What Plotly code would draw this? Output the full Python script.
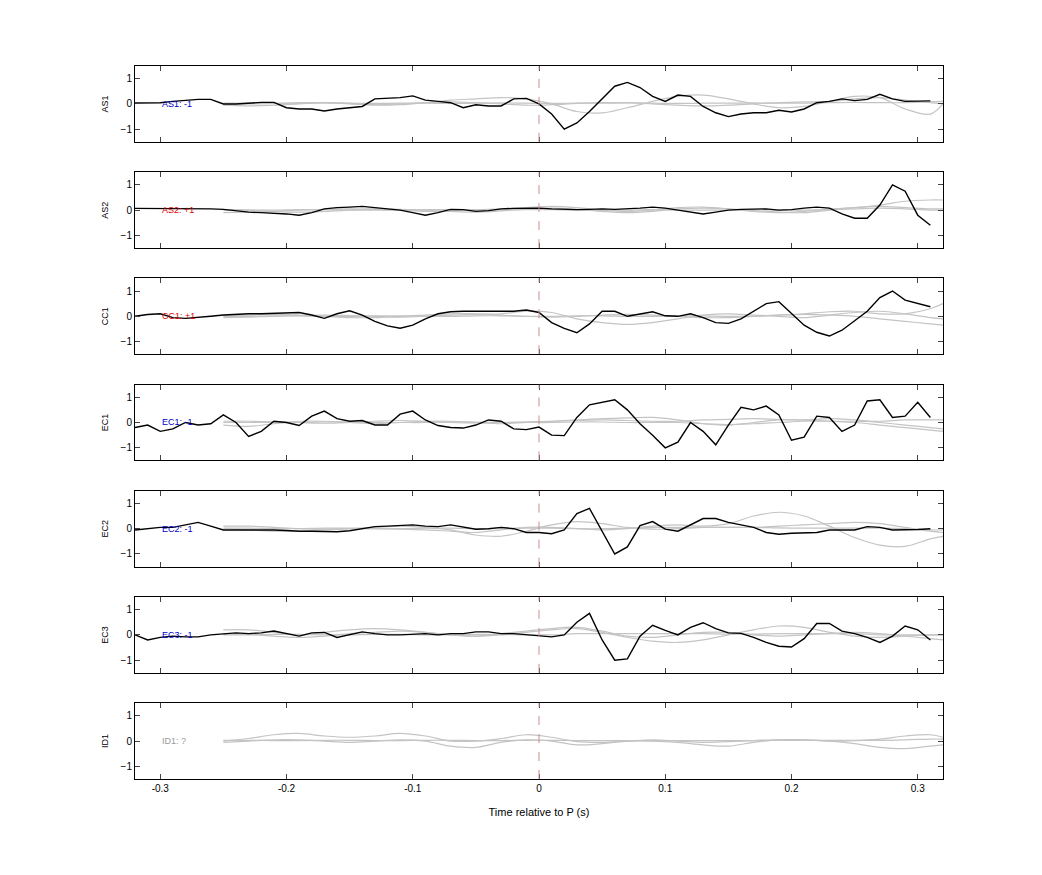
import plotly.graph_objects as go
from plotly.subplots import make_subplots

stations = ["AS1", "AS2", "CC1", "EC1", "EC2", "EC3", "ID1"]
labels = ["AS1: -1", "AS2: +1", "CC1: +1", "EC1: -1", "EC2: -1", "EC3: -1", "ID1: ?"]
label_colors = ["#0000cc", "#dd0000", "#dd0000", "#0000cc", "#0000cc", "#0000cc", "#999999"]

t_black = [round(-0.32 + 0.01 * i, 2) for i in range(64)]
black = {
    "AS1": [0.04,0.05,0.05,0.1,0.15,0.18,0.18,0.0,0.0,0.03,0.06,0.06,-0.15,-0.2,-0.2,-0.28,-0.2,-0.15,-0.1,0.2,0.22,0.25,0.32,0.15,0.1,0.05,-0.15,-0.03,-0.08,-0.08,0.2,0.22,0.0,-0.4,-1.0,-0.75,-0.3,0.2,0.7,0.85,0.65,0.3,0.1,0.35,0.3,-0.1,-0.35,-0.5,-0.4,-0.35,-0.35,-0.25,-0.32,-0.2,0.05,0.1,0.2,0.13,0.18,0.38,0.2,0.1,0.12,0.12],
    "AS2": [0.07,0.07,0.05,0.05,0.05,0.05,0.05,0.03,-0.02,-0.08,-0.1,-0.12,-0.15,-0.2,-0.1,0.05,0.1,0.12,0.15,0.1,0.05,0.0,-0.1,-0.2,-0.1,0.03,0.02,-0.05,-0.02,0.05,0.07,0.08,0.08,0.05,0.03,0.02,0.03,0.05,0.03,0.05,0.08,0.12,0.08,0.0,-0.08,-0.15,-0.08,0.0,0.03,0.03,0.05,0.0,0.02,0.08,0.12,0.08,-0.15,-0.32,-0.32,0.2,1.0,0.75,-0.2,-0.6],
    "CC1": [0.0,0.07,0.1,-0.05,-0.08,-0.05,0.0,0.05,0.08,0.1,0.1,0.12,0.15,0.15,0.05,-0.08,0.1,0.22,0.05,-0.2,-0.38,-0.47,-0.35,-0.1,0.1,0.18,0.2,0.2,0.2,0.2,0.2,0.25,0.15,-0.25,-0.48,-0.65,-0.3,0.2,0.2,0.0,0.1,0.18,0.02,0.0,0.1,-0.05,-0.25,-0.28,-0.1,0.2,0.5,0.58,0.1,-0.35,-0.63,-0.78,-0.55,-0.18,0.2,0.74,1.0,0.64,0.5,0.38],
    "EC1": [-0.2,-0.1,-0.35,-0.25,0.0,-0.1,-0.05,0.3,0.0,-0.55,-0.35,0.05,0.0,-0.12,0.25,0.45,0.15,0.05,0.08,-0.1,-0.1,0.33,0.45,0.1,-0.12,-0.2,-0.22,-0.1,0.1,0.05,-0.25,-0.28,-0.18,-0.5,-0.52,0.2,0.7,0.8,0.9,0.5,-0.05,-0.5,-1.0,-0.78,0.0,-0.35,-0.88,-0.1,0.6,0.5,0.65,0.3,-0.7,-0.58,0.25,0.2,-0.35,-0.1,0.85,0.9,0.2,0.25,0.8,0.2],
    "EC2": [-0.05,0.0,0.05,0.05,0.15,0.25,0.1,-0.05,-0.05,-0.05,-0.03,-0.05,-0.07,-0.1,-0.1,-0.1,-0.12,-0.08,0.0,0.08,0.1,0.12,0.15,0.1,0.08,0.15,0.05,-0.02,0.0,0.05,0.0,-0.15,-0.15,-0.2,-0.05,0.6,0.8,-0.1,-1.0,-0.72,0.12,0.28,-0.02,-0.1,0.15,0.4,0.4,0.25,0.15,0.05,-0.15,-0.22,-0.18,-0.18,-0.15,-0.05,-0.05,-0.05,0.08,0.05,-0.05,-0.05,-0.03,0.0],
    "EC3": [0.0,-0.2,-0.1,-0.05,-0.08,-0.08,0.0,0.05,0.08,0.05,0.08,0.15,0.05,-0.05,0.08,0.1,-0.1,0.0,0.12,0.05,0.0,0.0,0.02,0.05,0.0,0.05,0.05,0.12,0.12,0.05,0.05,0.0,-0.05,-0.08,0.0,0.5,0.85,-0.2,-1.0,-0.95,-0.05,0.38,0.18,0.0,0.3,0.48,0.25,0.08,0.06,-0.1,-0.3,-0.45,-0.48,-0.15,0.45,0.45,0.15,0.05,-0.1,-0.3,-0.05,0.35,0.2,-0.2],
}

t_gray = [round(-0.25 + 0.02 * i, 2) for i in range(29)] + [0.32]
gray = {
    "AS1": [
        [0,0,0.02,0.05,0.05,0,-0.05,-0.03,0.05,0.15,0.2,0.25,0.2,0,-0.3,-0.35,-0.15,0.1,0.3,0.35,0.2,0,-0.15,-0.1,0.1,0.3,0.25,-0.2,-0.4,0.0,0.5],
        [-0.05,-0.08,-0.05,0,0.05,0.02,-0.03,0,0.05,0.08,0.05,0,-0.05,-0.03,0.02,0.05,0.05,0,-0.05,-0.08,-0.05,0,0.05,0.08,0.1,0.2,0.25,0.15,0.05,0.0],
        [0.03,0.03,0.02,0.03,0.04,0.03,0.02,0.03,0.03,0.02,0.03,0.04,0.03,0.02,0.03,0.03,0.04,0.03,0.02,0.03,0.03,0.04,0.03,0.03,0.05,0.06,0.05,0.05,0.08,0.1],
    ],
    "AS2": [
        [-0.1,-0.08,-0.05,0,0.03,0.05,0.03,0,-0.05,-0.03,0.02,0.05,0.1,0.15,0.1,0,-0.05,0,0.1,0.12,0.05,-0.05,-0.1,-0.05,0.05,0.1,0.2,0.35,0.4,0.4],
        [0.02,0,-0.05,-0.08,-0.05,0,0.05,0.03,0,-0.05,-0.08,-0.03,0.05,0.08,0.03,-0.05,-0.1,-0.05,0.05,0.08,0.05,-0.02,-0.08,-0.1,0,0.1,0.15,0.1,0.05,0.05],
        [0,0,0,0.02,0.02,0,0,0,0.02,0.02,0,0,0.02,0.02,0,0,0,0.02,0,0,0,0.02,0,0,0.02,0.05,0.08,0.05,0,0],
    ],
    "CC1": [
        [-0.05,-0.03,0,0.03,0.05,0.03,0,-0.03,0,0.05,0.08,0.1,0.2,0.15,-0.1,-0.25,-0.32,-0.25,-0.1,0.05,0.1,0.05,0,-0.05,0.05,0.15,0.2,0.1,-0.05,-0.1],
        [0.02,0.05,0.08,0.05,0,-0.05,-0.05,0,0.05,0.1,0.1,0.05,0,-0.03,0,0.05,0.08,0.05,0,-0.05,-0.05,0,0.05,0.1,0.18,0.2,0.1,0.1,0.3,0.5],
        [0,0,0.02,0.02,0,0,0.02,0.02,0,0,0.02,0.02,0,0,0.02,0.02,0,0,0.02,0.02,0,0,0.05,0.08,0.05,0,-0.1,-0.2,-0.3,-0.35],
    ],
    "EC1": [
        [-0.1,-0.15,-0.05,0.05,0.05,0,-0.05,0,0.05,0.05,0,-0.05,0,0.05,0.1,0.15,0.18,0.2,0.1,-0.05,-0.1,0,0.1,0.1,0.05,0,-0.1,-0.2,-0.3,-0.35],
        [0.05,0.05,0.03,0,-0.03,0,0.05,0.08,0.05,0,-0.02,0,0.03,0.05,0.08,0.1,0.08,0.05,0.05,0.1,0.12,0.15,0.12,0.1,0.15,0.1,0,-0.1,-0.2,-0.25],
        [0,0,0,0,0.02,0.02,0,0,0,0.02,0.02,0,0,0,0.02,0.02,0,0,0,-0.05,-0.08,-0.05,0,0.05,0.05,0.05,0.05,0.1,0.1,0.1],
    ],
    "EC2": [
        [0.1,0.1,0.05,0,-0.02,0,0,-0.02,-0.05,-0.1,-0.15,-0.05,0.05,0.05,0,-0.05,0,0.1,0.15,0.1,0.2,0.5,0.65,0.5,0.1,-0.35,-0.65,-0.7,-0.4,-0.3],
        [0,-0.05,-0.1,-0.1,-0.05,0,0.05,0.1,0.05,-0.05,-0.25,-0.3,-0.1,0.15,0.28,0.2,0.05,-0.02,0,0.05,0.05,0.05,0.1,0.15,0.2,0.25,0.2,0.05,-0.1,-0.15],
        [0.02,0.02,0,0,0.02,0.02,0,0,0.02,0.02,0,0,0.02,0.02,0,0,0.02,0.05,0.05,0.05,0.05,0.05,0.03,0.02,0.02,0.02,0.02,0,-0.05,-0.05],
    ],
    "EC3": [
        [0.2,0.2,0.1,0,0.1,0.2,0.25,0.2,0.1,0,-0.05,0,0.1,0.2,0.25,0.1,-0.1,-0.25,-0.3,-0.2,0,0.2,0.35,0.3,0.1,-0.05,-0.1,-0.05,0,0],
        [0.05,0.02,-0.05,-0.1,-0.05,0.05,0.1,0.15,0.1,0,-0.05,0.05,0.15,0.25,0.3,0.15,-0.05,-0.1,0,0.1,0.1,0,-0.05,0,0.05,0.1,0.05,-0.05,-0.15,-0.2],
        [0,0,0.02,0.02,0,0,0.02,0.02,0,0,0.02,0.02,0,0,0.05,0.05,0.05,0.05,0.05,0.05,0.03,0.03,0.05,0.05,0.05,0.05,0,0,0,0],
    ],
    "ID1": [
        [0,0.1,0.25,0.3,0.2,0.15,0.2,0.3,0.2,0,0,0.1,0.25,0.15,-0.02,-0.05,0,0.05,0,-0.05,-0.02,0.02,0.05,0.05,0,0.02,0.08,0.2,0.25,0.15],
        [-0.05,0,0.05,0.05,0,-0.05,0,0.05,0,-0.2,-0.25,-0.05,0.05,0,-0.15,-0.1,0,0,-0.05,-0.15,-0.2,-0.05,0.05,0.05,0,-0.1,-0.25,-0.3,-0.2,-0.15],
        [0.03,0.03,0.02,0.02,0.03,0.03,0.02,0.02,0.03,0.03,0.02,0.02,0.03,0.03,0.02,0.02,0.02,0.02,0.02,0.02,0.02,0.02,0.03,0.03,0.03,0.03,0.03,0.05,0.08,0.08],
    ],
}

n = len(stations)
fig = make_subplots(rows=n, cols=1, shared_xaxes=True, vertical_spacing=0.0425)
for i, s in enumerate(stations):
    r = i + 1
    for g in gray[s]:
        fig.add_trace(go.Scatter(x=t_gray[:len(g)], y=g, mode="lines", line=dict(color="#c4c4c4", width=1.2, shape="spline"),
                                 hoverinfo="skip", showlegend=False), row=r, col=1)
    if s in black:
        fig.add_trace(go.Scatter(x=t_black, y=black[s], mode="lines", line=dict(color="black", width=1.4),
                                 showlegend=False), row=r, col=1)
    fig.add_shape(type="line", x0=0, x1=0, y0=-1.5, y1=1.5, line=dict(color="#c89090", width=1, dash="dash"), row=r, col=1)
    fig.add_annotation(x=-0.3, y=0, text=labels[i], showarrow=False, xanchor="left",
                       font=dict(size=9, color=label_colors[i]), row=r, col=1)
    fig.update_yaxes(range=[-1.5, 1.5], tickvals=[-1, 0, 1], ticks="inside", ticklen=5, mirror="ticks",
                     showline=True, linecolor="black", linewidth=1, showgrid=False, zeroline=False, automargin=False,
                     title=dict(text=s, font=dict(size=9), standoff=10), row=r, col=1)
    fig.update_xaxes(range=[-0.32, 0.32], tickvals=[-0.3, -0.2, -0.1, 0, 0.1, 0.2, 0.3],
                     ticktext=["-0.3", "-0.2", "-0.1", "0", "0.1", "0.2", "0.3"], automargin=False,
                     ticks="inside", ticklen=5, mirror="ticks", showline=True, linecolor="black", linewidth=1,
                     showgrid=False, zeroline=False, row=r, col=1)
fig.update_xaxes(title=dict(text="Time relative to P (s)", font=dict(size=11)), row=n, col=1)
fig.update_layout(width=1042, height=875, plot_bgcolor="white", paper_bgcolor="white",
                  margin=dict(l=127, r=107, t=58, b=104),
                  font=dict(family="Liberation Sans, Arial, sans-serif", size=10, color="black"))
fig.write_html("out.html")
